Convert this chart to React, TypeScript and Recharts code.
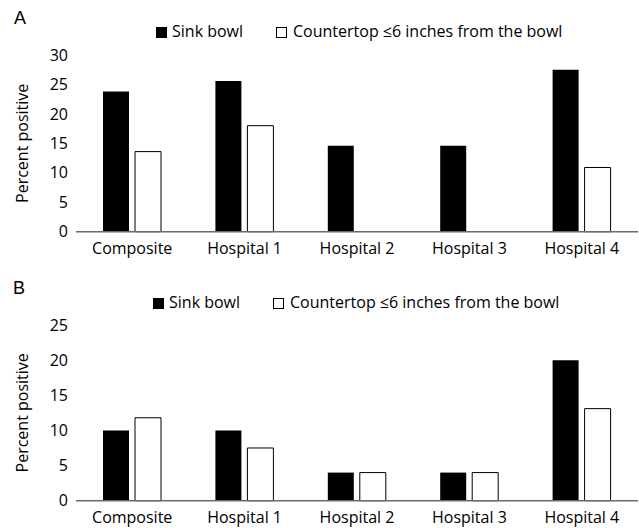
import React from 'react';
import { BarChart, Bar, XAxis, YAxis, Legend } from 'recharts';

const categories = ['Composite', 'Hospital 1', 'Hospital 2', 'Hospital 3', 'Hospital 4'];
const sinkA = [23.8, 25.6, 14.6, 14.6, 27.5];
const counterA = [13.6, 18.0, 0, 0, 10.9];
const sinkB = [10, 10, 4, 4, 20];
const counterB = [11.8, 7.5, 4, 4, 13.1];
const ticksA = [0, 5, 10, 15, 20, 25, 30];
const ticksB = [0, 5, 10, 15, 20, 25];
const seriesNames = ['Sink bowl', 'Countertop \u22646 inches from the bowl'];

const dataA = categories.map((c, i) => ({ name: c, sink: sinkA[i], counter: counterA[i] }));
const dataB = categories.map((c, i) => ({ name: c, sink: sinkB[i], counter: counterB[i] }));

const FONT = '"Open Sans", sans-serif';

const LegendContent = ({ left }: { left: number }) => (
  <div style={{ position: 'relative', height: 20, fontFamily: FONT, fontSize: 16, color: '#000' }}>
    <div style={{ position: 'absolute', left: left, top: 4, width: 11, height: 11, background: '#000' }} />
    <div style={{ position: 'absolute', left: left + 16, top: -3, lineHeight: '22px', whiteSpace: 'nowrap' }}>{seriesNames[0]}</div>
    <div style={{ position: 'absolute', left: left + 120, top: 4, width: 9, height: 9, background: '#fff', border: '1px solid #000' }} />
    <div style={{ position: 'absolute', left: left + 137, top: -3, lineHeight: '22px', whiteSpace: 'nowrap' }}>{seriesNames[1]}</div>
  </div>
);

const YLabel = (props: any) => {
  const vb = props.viewBox || {};
  const cy = vb.y + vb.height / 2;
  return (
    <text x={22} y={cy} transform={`rotate(-90, 22, ${cy})`} textAnchor="middle" dominantBaseline="central"
      style={{ fontFamily: FONT, fontSize: 16, fill: '#000' }}>Percent positive</text>
  );
};

const Panel = ({ data, ticks, max, height, top, legendTop, legendLeft, xh }: any) => (
  <BarChart width={639} height={height} data={data} margin={{ top: top, right: 1, left: 0, bottom: 0 }}
    barSize={26} barGap={6}>
    <XAxis dataKey="name" height={xh} tickLine={false} axisLine={{ stroke: '#6b6b6b', strokeWidth: 1.5 }}
      tickMargin={5} tick={{ fontFamily: FONT, fontSize: 16, fill: '#000' }} interval={0} />
    <YAxis width={76} domain={[0, max]} ticks={ticks} tickLine={false} axisLine={false}
      tick={{ fontFamily: FONT, fontSize: 16, fill: '#000' }} label={<YLabel />} />
    <Legend verticalAlign="top" wrapperStyle={{ position: 'absolute', top: legendTop, left: 0, width: 639 }}
      content={() => <LegendContent left={legendLeft} />} />
    <Bar dataKey="sink" name={seriesNames[0]} fill="#000" isAnimationActive={false} />
    <Bar dataKey="counter" name={seriesNames[1]} fill="#fff" stroke="#000" strokeWidth={1} isAnimationActive={false} />
  </BarChart>
);

export default function App() {
  return (
    <div style={{ position: 'absolute', left: 0, top: 0, width: 639, height: 528, background: '#fff' }}>
      <div style={{ position: 'absolute', left: 0, top: 0 }}>
        <Panel data={dataA} ticks={ticksA} max={30} height={260} top={35} xh={28.3} legendTop={23} legendLeft={156} />
      </div>
      <div style={{ position: 'absolute', left: 0, top: 260 }}>
        <Panel data={dataB} ticks={ticksB} max={25} height={268} top={45} xh={27.3} legendTop={34} legendLeft={153} />
      </div>
      <div style={{ position: 'absolute', left: 14, top: 8, fontFamily: '"Liberation Sans", Arial, sans-serif', fontSize: 18, lineHeight: '20px' }}>A</div>
      <div style={{ position: 'absolute', left: 13, top: 278, fontFamily: '"Liberation Sans", Arial, sans-serif', fontSize: 18, lineHeight: '20px' }}>B</div>
    </div>
  );
}
